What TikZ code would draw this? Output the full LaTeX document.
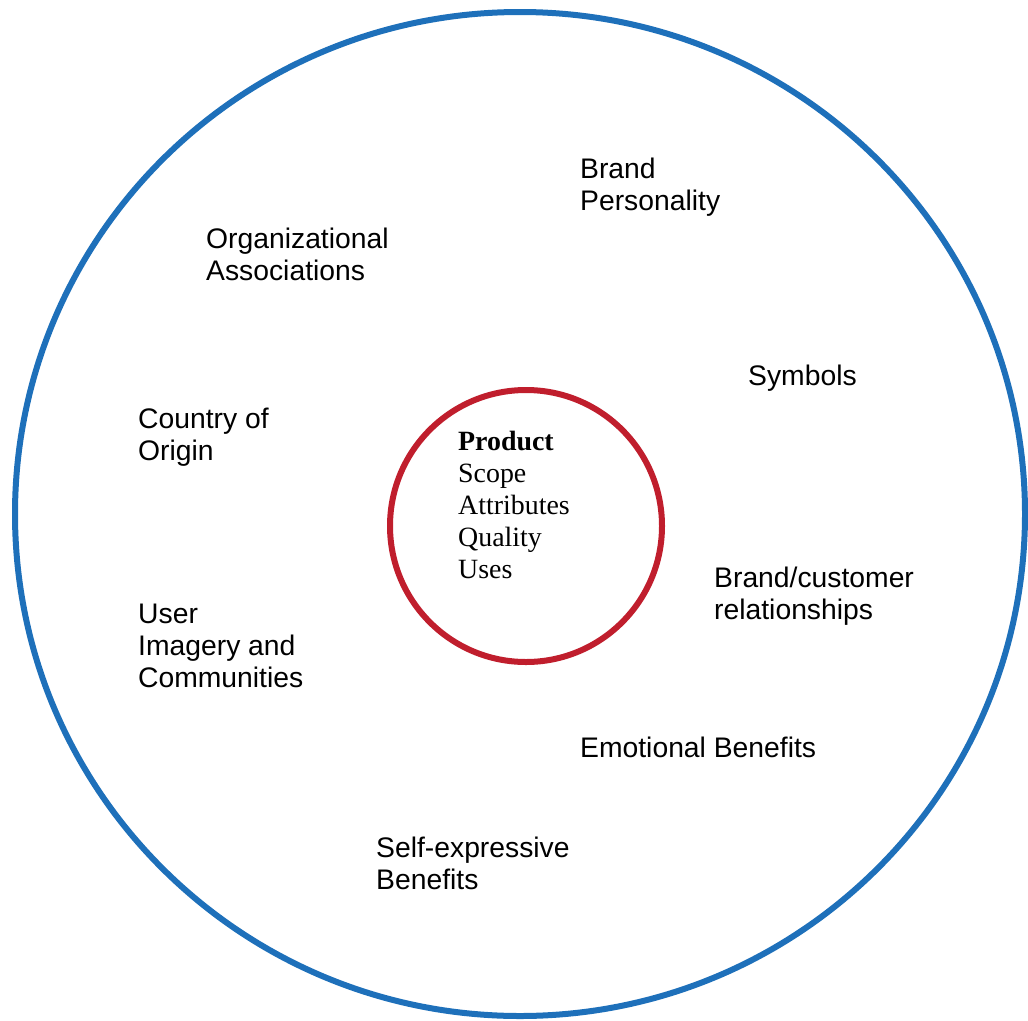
\documentclass[tikz,border=0pt]{standalone}
\usepackage{fontspec}
\setmainfont{Liberation Sans}
\newfontfamily\serifrm{Liberation Serif}
\definecolor{ringblue}{RGB}{30,112,186}
\definecolor{ringred}{RGB}{192,30,45}
\begin{document}
\begin{tikzpicture}[x=1bp,y=-1bp,
  lbl/.style={anchor=base west,align=left,inner sep=0pt,
    font=\fontsize{28.4}{32}\selectfont},
  inlbl/.style={anchor=base west,align=left,inner sep=0pt,
    font=\serifrm\fontsize{28}{32}\selectfont}]
  \useasboundingbox (0,0) rectangle (1028,1021);
  % outer circle
  \coordinate (O) at (520,514);
  \draw[ringblue,line width=6bp] (O) ellipse [x radius=505,y radius=502];
  % inner circle
  \coordinate (C) at (526,526);
  \draw[ringred,line width=6bp] (C) circle (136);
  % product text (base = last line)
  \node[inlbl] (prod) at (458,578) {\textbf{Product}\\Scope\\Attributes\\Quality\\Uses};
  % labels round the ring
  \node[lbl] (pers) at (580,210) {Brand\\Personality};
  \node[lbl] (org)  at (206,280) {Organizational\\Associations};
  \node[lbl] (sym)  at (748,385) {Symbols};
  \node[lbl] (orig) at (138,460) {Country of\\Origin};
  \node[lbl] (rel)  at (714,619) {Brand/customer\\relationships};
  \node[lbl] (user) at (138,687) {User\\Imagery and\\Communities};
  \node[lbl] (emo)  at (580,757) {Emotional Benefits};
  \node[lbl] (self) at (376,889) {Self-expressive\\Benefits};
\end{tikzpicture}
\end{document}
